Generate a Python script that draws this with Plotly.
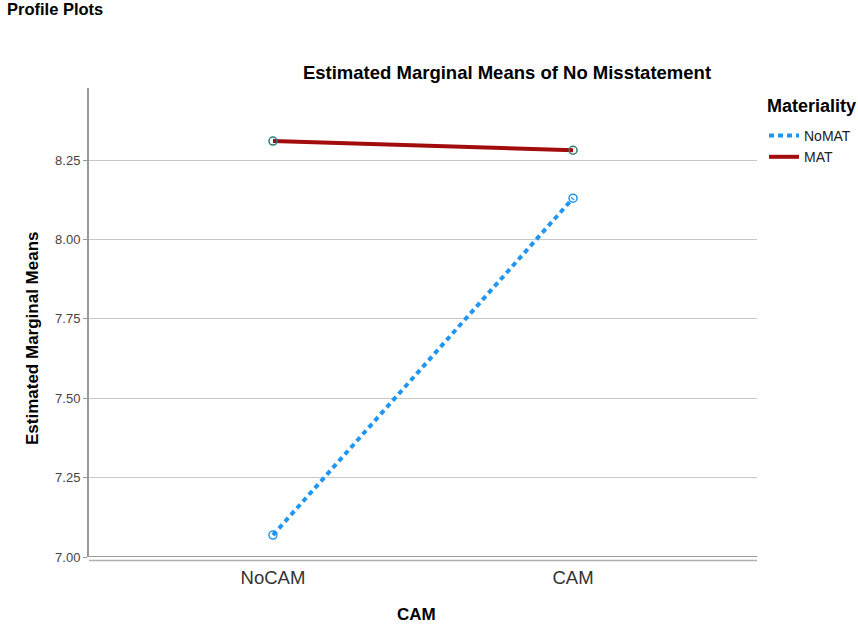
import plotly.graph_objects as go

categories = ["NoCAM", "CAM"]
nomat = [7.069, 8.130]
mat = [8.310, 8.281]
y_ticks = [7.00, 7.25, 7.50, 7.75, 8.00, 8.25]
y_tick_labels = ["7.00", "7.25", "7.50", "7.75", "8.00", "8.25"]

BLUE = "#2196f0"
RED = "#a30c0c"
TEAL = "#2e7d78"

W, H = 858, 624
L, R, T, B = 89, 101, 88, 67
PW, PH = W - L - R, H - T - B


def px(xp):
    return (xp - L) / PW


def py(yp):
    return (H - B - yp) / PH


fig = go.Figure()
fig.add_trace(go.Scatter(
    x=categories, y=nomat, name="NoMAT", mode="lines",
    line=dict(color=BLUE, width=4, dash="5px,4px"),
))
fig.add_trace(go.Scatter(
    x=categories, y=mat, name="MAT", mode="lines",
    line=dict(color=RED, width=4),
))
fig.add_trace(go.Scatter(
    x=categories, y=nomat, name="NoMAT", mode="markers", showlegend=False,
    marker=dict(symbol="circle-open", size=8, color=BLUE, line=dict(width=1.5)),
))
fig.add_trace(go.Scatter(
    x=categories, y=mat, name="MAT", mode="markers", showlegend=False,
    marker=dict(symbol="circle-open", size=8, color=TEAL, line=dict(width=1.5)),
))

fig.update_layout(
    width=W, height=H,
    paper_bgcolor="white", plot_bgcolor="white",
    margin=dict(l=L, r=R, t=T, b=B, autoexpand=False),
    font=dict(family="Liberation Sans, Arial, sans-serif", color="black"),
    title=dict(text="<b>Estimated Marginal Means of No Misstatement</b>",
               x=507 / W, xanchor="center", y=1 - 73 / H, yanchor="middle",
               font=dict(size=18.5, color="black")),
    showlegend=True,
    legend=dict(xref="container", yref="container",
                x=764 / W, xanchor="left", y=1 - 120 / H, yanchor="top",
                font=dict(size=14, color="#222"), tracegroupgap=0,
                itemwidth=30, bgcolor="rgba(0,0,0,0)"),
    xaxis=dict(
        type="category", range=[-0.613, 1.613],
        showgrid=False, showline=False, automargin=False,
        ticks="outside", ticklen=4, tickcolor="rgba(0,0,0,0)",
        tickfont=dict(size=18.5, color="#333"),
        zeroline=False,
    ),
    yaxis=dict(
        range=[7.0, 8.477], tickvals=y_ticks, ticktext=y_tick_labels,
        showgrid=True, gridcolor="#c8c8c8", gridwidth=1.2,
        showline=True, linecolor="#999999", linewidth=2, automargin=False,
        ticks="outside", ticklen=4, tickcolor="#999999",
        tickfont=dict(size=13, color="#444"),
        zeroline=False,
    ),
    annotations=[
        dict(text="<b>Profile Plots</b>", xref="paper", yref="paper",
             x=px(5), y=py(9), xanchor="left", yanchor="middle",
             showarrow=False, font=dict(size=16.5, color="black")),
        dict(text="<b>Materiality</b>", xref="paper", yref="paper",
             x=px(765), y=py(106), xanchor="left", yanchor="middle",
             showarrow=False, font=dict(size=18, color="black")),
        dict(text="<b>Estimated Marginal Means</b>", xref="paper", yref="paper",
             x=px(32), y=py(338), xanchor="center", yanchor="middle", textangle=-90,
             showarrow=False, font=dict(size=17, color="black")),
        dict(text="<b>CAM</b>", xref="paper", yref="paper",
             x=px(416), y=py(614), xanchor="center", yanchor="middle",
             showarrow=False, font=dict(size=17, color="black")),
    ],
    shapes=[
        dict(type="line", xref="paper", yref="y", x0=0, x1=1, y0=7.0, y1=7.0,
             line=dict(color="#999999", width=2)),
        dict(type="line", xref="paper", yref="paper", x0=0, x1=1, y0=py(560.5), y1=py(560.5),
             line=dict(color="#b0b0b0", width=1.5)),
    ],
)

fig.write_html("out.html", config={"displayModeBar": False},
               post_script="document.body.style.margin='0';")
